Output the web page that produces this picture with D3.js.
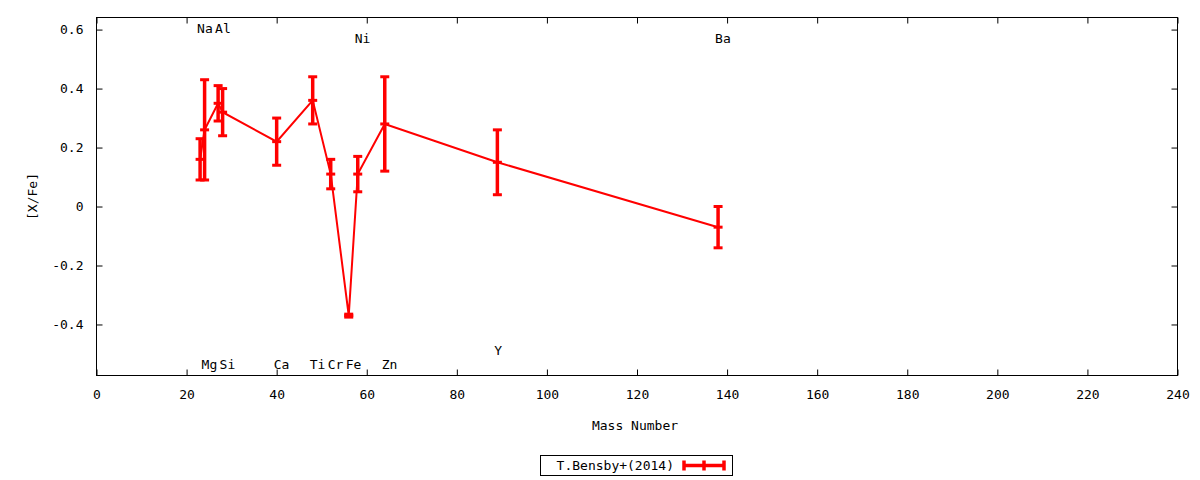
<!DOCTYPE html>
<html>
<head>
<meta charset="utf-8">
<script src="https://cdn.jsdelivr.net/npm/d3@7"></script>
<style>
  html, body { margin: 0; padding: 0; background: #fff; }
  svg { display: block; }
  text { font-family: "DejaVu Sans Mono", monospace; font-size: 13px; fill: #000; }
</style>
</head>
<body>
<svg id="chart" width="1200" height="480"></svg>
<script>
// ---- data ----
const elements     = ["Na", "Mg", "Al", "Si", "Ca", "Ti", "Cr", "Fe", "Ni", "Zn", "Y", "Ba"];
const massNumbers  = [23, 24, 27, 28, 40, 48, 52, 56, 58, 64, 89, 138];
const xfeValues    = [0.16, 0.26, 0.35, 0.32, 0.22, 0.36, 0.11, -0.37, 0.11, 0.28, 0.15, -0.07];
const xfeErrors    = [0.07, 0.17, 0.06, 0.08, 0.08, 0.08, 0.05, 0.005, 0.06, 0.16, 0.11, 0.07];
const labelYValues = [0.603, -0.535, 0.603, -0.535, -0.535, -0.535, -0.535, -0.535, 0.57, -0.535, -0.488, 0.57];
const xTicks = [0, 20, 40, 60, 80, 100, 120, 140, 160, 180, 200, 220, 240];
const yTicks = [-0.4, -0.2, 0, 0.2, 0.4, 0.6];
const seriesName = "T.Bensby+(2014)";
const xTitle = "Mass Number";
const yTitle = "[X/Fe]";

(function () {
// ---- layout ----
const svg = d3.select("#chart");
const pL = 96.5, pR = 1177.5, pT = 17.5, pB = 375.5;
const x = d3.scaleLinear().domain([0, 240]).range([pL, pR]);
const y = d3.scaleLinear().domain([-0.573, 0.641]).range([pB, pT]);
const red = "#ff0000";
const tickLen = 6;

const pts = elements.map((e, i) => ({ el: e, m: massNumbers[i], v: xfeValues[i], err: xfeErrors[i], ly: labelYValues[i] }));

// frame
svg.append("rect").attr("x", pL).attr("y", pT).attr("width", pR - pL).attr("height", pB - pT)
  .attr("fill", "none").attr("stroke", "#000").attr("stroke-width", 1);

// axes (inward ticks, mirrored)
const fmtY = d => d === 0 ? "0" : d3.format(".1f")(d).replace("−", "-");
svg.append("g").attr("transform", `translate(0,${pB})`)
  .call(d3.axisBottom(x).tickValues(xTicks).tickSizeInner(-tickLen).tickSizeOuter(0).tickPadding(14).tickFormat(d3.format("d")))
  .call(g => g.select(".domain").remove());
svg.append("g").attr("transform", `translate(0,${pT})`)
  .call(d3.axisTop(x).tickValues(xTicks).tickSizeInner(-tickLen).tickSizeOuter(0).tickFormat(""))
  .call(g => g.select(".domain").remove());
svg.append("g").attr("transform", `translate(${pL},0)`)
  .call(d3.axisLeft(y).tickValues(yTicks).tickSizeInner(-tickLen).tickSizeOuter(0).tickPadding(13).tickFormat(fmtY))
  .call(g => g.select(".domain").remove());
svg.append("g").attr("transform", `translate(${pR},0)`)
  .call(d3.axisRight(y).tickValues(yTicks).tickSizeInner(-tickLen).tickSizeOuter(0).tickFormat(""))
  .call(g => g.select(".domain").remove());
svg.selectAll(".tick text").style("font-family", "'DejaVu Sans Mono', monospace").style("font-size", "13px").attr("fill", "#000");
svg.selectAll(".tick line").attr("stroke", "#000");

// axis titles
svg.append("text").attr("x", (pL + pR) / 2 - 2).attr("y", 425).attr("text-anchor", "middle").attr("dominant-baseline", "central").text(xTitle);
svg.append("text").attr("transform", `translate(32,${(pT + pB) / 2}) rotate(-90)`)
  .attr("text-anchor", "middle").attr("dominant-baseline", "central").text(yTitle);

// element labels
svg.append("g").selectAll("text").data(pts).join("text")
  .attr("x", d => x(d.m) - 3).attr("y", d => y(d.ly))
  .attr("text-anchor", "start").attr("dominant-baseline", "central").text(d => d.el);

// connecting line
const line = d3.line().x(d => x(d.m)).y(d => y(d.v));
svg.append("path").datum(pts).attr("d", line).attr("fill", "none").attr("stroke", red).attr("stroke-width", 2);

// error bars
const capW = 9, ebW = 3.5;
const eb = svg.append("g").attr("stroke", red);
eb.selectAll("line.bar").data(pts).join("line").attr("class", "bar")
  .attr("x1", d => x(d.m)).attr("x2", d => x(d.m))
  .attr("y1", d => y(d.v - d.err)).attr("y2", d => y(d.v + d.err)).attr("stroke-width", ebW);
eb.selectAll("line.capt").data(pts).join("line").attr("class", "capt")
  .attr("x1", d => x(d.m) - capW / 2).attr("x2", d => x(d.m) + capW / 2)
  .attr("y1", d => y(d.v + d.err)).attr("y2", d => y(d.v + d.err)).attr("stroke-width", 3);
eb.selectAll("line.capb").data(pts).join("line").attr("class", "capb")
  .attr("x1", d => x(d.m) - capW / 2).attr("x2", d => x(d.m) + capW / 2)
  .attr("y1", d => y(d.v - d.err)).attr("y2", d => y(d.v - d.err)).attr("stroke-width", 3);
// point markers (+)
eb.selectAll("line.pt").data(pts).join("line").attr("class", "pt")
  .attr("x1", d => x(d.m) - capW / 2).attr("x2", d => x(d.m) + capW / 2)
  .attr("y1", d => y(d.v)).attr("y2", d => y(d.v)).attr("stroke-width", 3);

// legend
const lg = svg.append("g");
lg.append("rect").attr("x", 540.5).attr("y", 455.5).attr("width", 192).attr("height", 20)
  .attr("fill", "#fff").attr("stroke", "#000").attr("stroke-width", 1);
lg.append("text").attr("x", 674).attr("y", 465.5).attr("text-anchor", "end").attr("dominant-baseline", "central").text(seriesName);
const lx1 = 684, lx2 = 724, lyc = 465.5;
lg.append("line").attr("x1", lx1).attr("x2", lx2).attr("y1", lyc).attr("y2", lyc).attr("stroke", red).attr("stroke-width", 3.5);
[lx1, (lx1 + lx2) / 2, lx2].forEach(px => {
  lg.append("line").attr("x1", px).attr("x2", px).attr("y1", lyc - 5).attr("y2", lyc + 5).attr("stroke", red).attr("stroke-width", 3.5);
});
})();
</script>
</body>
</html>
